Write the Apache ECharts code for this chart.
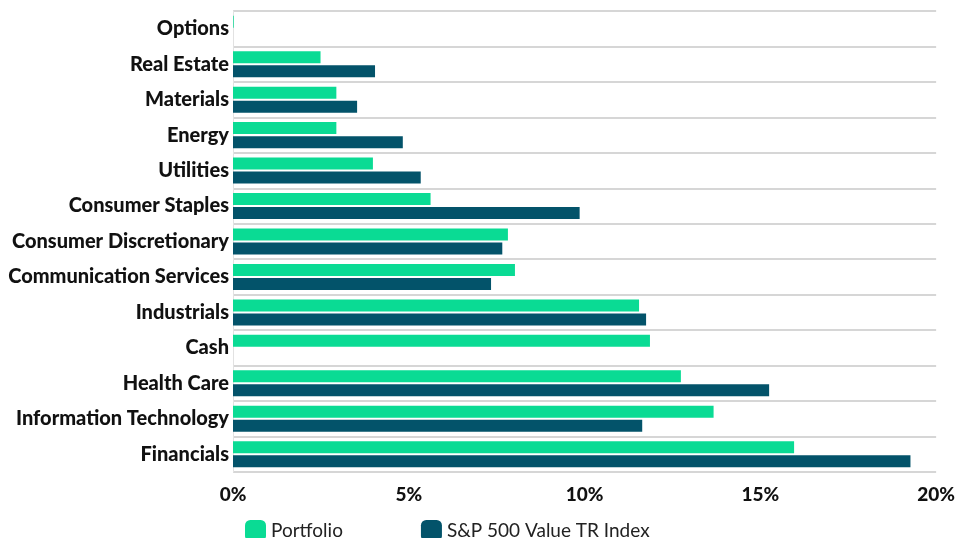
<!DOCTYPE html>
<html>
<head>
<meta charset="utf-8">
<script src="https://cdn.jsdelivr.net/npm/echarts@6/dist/echarts.min.js"></script>
<style>html,body{margin:0;padding:0;background:#fff}#c{width:958px;height:538px}</style>
</head>
<body>
<div id="c"></div>
<script>
const categories = ["Options","Real Estate","Materials","Energy","Utilities","Consumer Staples","Consumer Discretionary","Communication Services","Industrials","Cash","Health Care","Information Technology","Financials"];
const portfolio = [0.02, 2.49, 2.94, 2.94, 3.98, 5.62, 7.82, 8.02, 11.55, 11.86, 12.74, 13.67, 15.96];
const spValue   = [0,    4.04, 3.53, 4.83, 5.34, 9.86, 7.66, 7.34, 11.75, 0,    15.25, 11.64, 19.27];
const seriesNames = ["Portfolio","S&P 500 Value TR Index"];
const xTicks = [0, 5, 10, 15, 20];

const chart = echarts.init(document.getElementById('c'), null, {renderer:'canvas'});
chart.setOption({
  animation:false,
  color:['#0adb94','#03536a'],
  textStyle:{fontFamily:'Lato'},
  grid:{left:233,right:12,top:11,bottom:66,containLabel:false},
  legend:{
    left:240, top:515, itemWidth:21, itemHeight:21, itemGap:78,
    icon:'roundRect',
    textStyle:{fontSize:19,color:'#222',fontFamily:'Lato'},
    data:seriesNames
  },
  xAxis:{
    type:'value', min:xTicks[0], max:xTicks[xTicks.length-1], interval:5,
    axisLine:{show:false}, axisTick:{show:false}, splitLine:{show:false},
    axisLabel:{formatter:'{value}%', fontSize:19, fontWeight:900, color:'#111', margin:13, fontFamily:'Lato'}
  },
  yAxis:{
    type:'category', data:categories, inverse:true,
    axisLine:{show:true, lineStyle:{color:'#e2e2e2',width:1}},
    axisTick:{show:false},
    splitLine:{show:true, lineStyle:{color:'#d6d6d6',width:2}},
    axisLabel:{fontSize:20, fontWeight:900, color:'#111', margin:4, fontFamily:'Lato'}
  },
  series:[
    {name:seriesNames[0], type:'bar', data:portfolio, barWidth:12, barGap:'17%'},
    {name:seriesNames[1], type:'bar', data:spValue, barWidth:12, barGap:'17%'}
  ]
});
</script>
</body>
</html>
